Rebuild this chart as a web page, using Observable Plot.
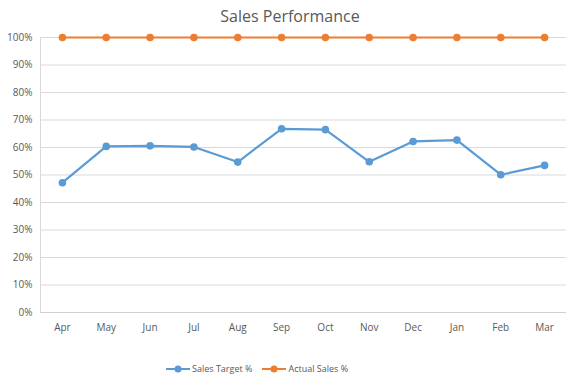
<!DOCTYPE html>
<html>
<head>
<meta charset="utf-8">
<script src="https://cdn.jsdelivr.net/npm/d3@7"></script>
<script src="https://cdn.jsdelivr.net/npm/@observablehq/plot@0.6"></script>
<style>
  body { margin: 0; background: #fff; font-family: "Open Sans", sans-serif; }
  #wrap { position: relative; width: 585px; height: 390px; overflow: hidden; }
  #title { position: absolute; top: 5px; left: 0; width: 580px; text-align: center; font-size: 16px; color: #595959; }
  #chart { position: absolute; top: 0; left: 0; }
  #legend { position: absolute; top: 362px; left: 166px; display: flex; gap: 10px; font-size: 9px; color: #595959; }
  .item { display: flex; align-items: center; gap: 2px; }
</style>
</head>
<body>
<div id="wrap">
  <div id="chart"></div>
  <div id="title">Sales Performance</div>
  <div id="legend"></div>
</div>
<script>
const months = ["Apr","May","Jun","Jul","Aug","Sep","Oct","Nov","Dec","Jan","Feb","Mar"];
const salesTarget = [0.472, 0.604, 0.606, 0.602, 0.547, 0.668, 0.665, 0.548, 0.622, 0.627, 0.501, 0.535];
const actualSales = [1, 1, 1, 1, 1, 1, 1, 1, 1, 1, 1, 1];
const seriesNames = ["Sales Target %", "Actual Sales %"];
const seriesColors = ["#5b9bd5", "#ed7d31"];
const yTicks = [0, 0.1, 0.2, 0.3, 0.4, 0.5, 0.6, 0.7, 0.8, 0.9, 1.0];

const rows = [];
months.forEach((m, i) => {
  rows.push({month: m, value: salesTarget[i], series: seriesNames[0]});
  rows.push({month: m, value: actualSales[i], series: seriesNames[1]});
});

const chart = Plot.plot({
  width: 585,
  height: 345,
  marginTop: 37,
  marginBottom: 33,
  marginLeft: 40,
  marginRight: 19,
  style: {fontFamily: "Open Sans, sans-serif", fontSize: "10px", color: "#595959", background: "transparent"},
  x: {type: "point", domain: months, padding: 0.5, round: false, label: null, tickSize: 0, tickPadding: 11},
  y: {domain: [0, 1], ticks: yTicks, tickFormat: d3.format(".0%"), label: null, tickSize: 0, tickPadding: 8},
  color: {domain: seriesNames, range: seriesColors},
  marks: [
    Plot.gridY(yTicks, {stroke: "#d9d9d9", strokeOpacity: 1, strokeWidth: 1}),
    Plot.frame({anchor: "left", stroke: "#d9d9d9"}),
    Plot.ruleY([0], {stroke: "#d0d0d0"}),
    Plot.line(rows, {x: "month", y: "value", z: "series", stroke: "series", strokeWidth: 2.2}),
    Plot.dot(rows, {x: "month", y: "value", fill: "series", r: 3.8})
  ]
});
document.getElementById("chart").appendChild(chart);

const legend = document.getElementById("legend");
seriesNames.forEach((name, i) => {
  const item = document.createElement("div");
  item.className = "item";
  item.innerHTML = `<svg width="24" height="10"><line x1="0" x2="24" y1="5" y2="5" stroke="${seriesColors[i]}" stroke-width="2"/><circle cx="12" cy="5" r="3.5" fill="${seriesColors[i]}"/></svg><span>${name}</span>`;
  legend.appendChild(item);
});
</script>
</body>
</html>
